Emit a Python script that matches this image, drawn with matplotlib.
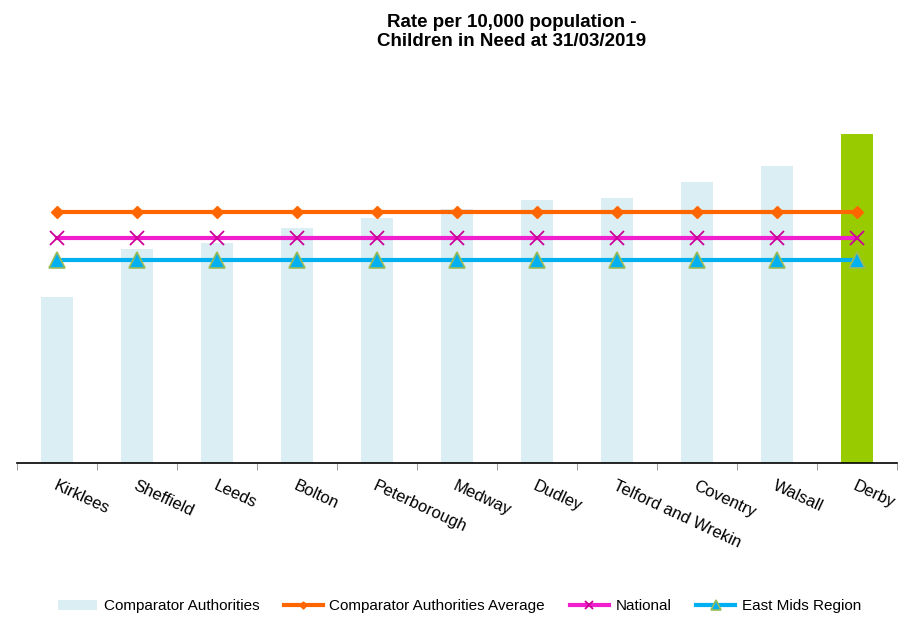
import matplotlib.pyplot as plt
import numpy as np

plt.rcParams['font.family'] = ['Liberation Sans', 'DejaVu Sans']

# Rate per 10,000
authorities = ['Kirklees', 'Sheffield', 'Leeds', 'Bolton', 'Peterborough', 'Medway',
               'Dudley', 'Telford and Wrekin', 'Coventry', 'Walsall', 'Derby']
rates = [246, 318, 327, 349, 363, 376, 390, 393, 417, 440, 488]
comparator_avg = 372
national = 334
east_mids = 301

fig = plt.figure(figsize=(9.13, 6.18), dpi=100)
ax = fig.add_axes([0.019, 0.2503, 0.9639, 0.568])

x = np.arange(len(authorities))
colors = ['#DAEEF3'] * (len(authorities) - 1) + ['#99CC00']
ax.bar(x, rates, width=0.4, color=colors, label='Comparator Authorities', zorder=1)

ax.plot(x, [comparator_avg] * len(x), color='#FF6600', lw=3, marker='D', ms=6,
        markerfacecolor='#FF6600', markeredgecolor='#FF6600',
        label='Comparator Authorities Average', zorder=3)
ax.plot(x, [national] * len(x), color='#F01ECD', lw=3, marker='x', ms=10, mew=1.3,
        markeredgecolor='#CC0099', label='National', zorder=3)
ax.plot(x, [east_mids] * len(x), color='#00B0F0', lw=3, marker='^', ms=12, mew=1.2,
        markerfacecolor='#00B0F0', markeredgecolor='#9BBB59',
        label='East Mids Region', zorder=3)

ax.set_xlim(-0.5, len(x) - 0.5)
ax.set_ylim(0, 520)
ax.set_yticks([])
for s in ['top', 'right', 'left']:
    ax.spines[s].set_visible(False)
ax.spines['bottom'].set_color('black')
ax.spines['bottom'].set_linewidth(1.2)

ax.set_xticks(np.arange(-0.5, len(x), 1), minor=True)
ax.tick_params(axis='x', which='minor', length=5, color='#888888')
ax.tick_params(axis='x', which='major', length=0, pad=11)
ax.set_xticks(x)
ax.set_xticklabels(authorities, rotation=-25, ha='left', rotation_mode='anchor',
                   fontsize=12)

fig.text(0.56, 0.978, 'Rate per 10,000 population -\nChildren in Need at 31/03/2019',
         ha='center', va='top', fontsize=13.5, fontweight='bold', linespacing=1.15)

handles, labels = ax.get_legend_handles_labels()
order = [3, 0, 1, 2]
fig.legend([handles[i] for i in order], [labels[i] for i in order],
           loc='center', bbox_to_anchor=(0.503, 0.019), ncol=4, frameon=False,
           fontsize=11, handlelength=2.6, columnspacing=1.6, handletextpad=0.4,
           markerscale=0.6)

fig.savefig('out.png', dpi=100)
